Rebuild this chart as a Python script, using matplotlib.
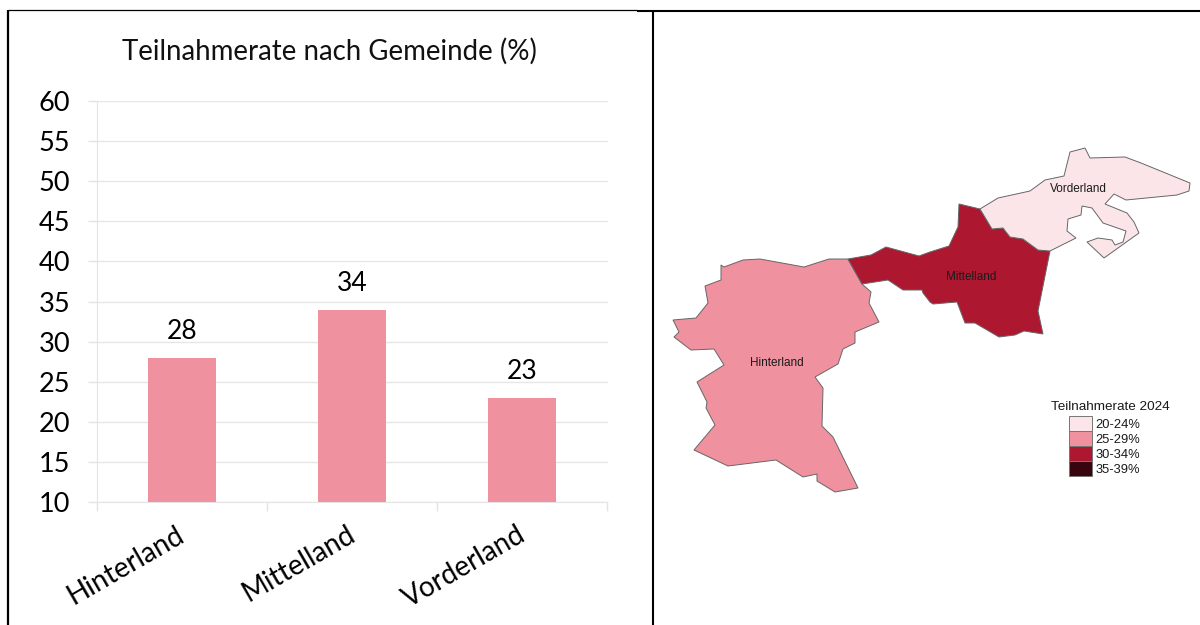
# Teilnahmerate nach Gemeinde: bar chart and small map
import matplotlib
matplotlib.use('Agg')
import matplotlib.pyplot as plt
from matplotlib.patches import Polygon, Rectangle
from matplotlib.transforms import ScaledTranslation

gemeinden = ['Hinterland', 'Mittelland', 'Vorderland']
teilnahme = [28, 34, 23]
y_ticks = list(range(10, 65, 5))

legend_title = 'Teilnahmerate 2024'
legend_labels = ['20-24%', '25-29%', '30-34%', '35-39%']
legend_colors = ['#FBE5E9', '#F0919F', '#AE1730', '#38040E']

# map outlines
hinterland_x = [848, 862, 871, 869, 879, 855, 855, 843, 838, 815, 823, 822, 833, 858, 835, 817, 817,
                803, 776, 728, 694, 715, 706, 707, 697, 724, 714, 691, 674, 679, 673, 696, 708, 705,
                721, 721, 724, 743, 760, 804, 829]
hinterland_y = [259, 284, 292, 303, 322, 332, 343, 349, 364, 377, 388, 426, 437, 488, 492, 481, 474,
                477, 460, 466, 450, 425, 408, 402, 382, 365, 349, 350, 337, 332, 320, 318, 303, 286,
                280, 265, 267, 260, 259, 267, 259]
mittelland_x = [848, 871, 886, 919, 930, 949, 958, 959, 980, 992, 1003, 1010, 1023, 1038, 1050, 1038,
                1043, 1024, 1015, 999, 975, 965, 957, 933, 930, 923, 922, 903, 888, 862]
mittelland_y = [259, 255, 247, 256, 252, 246, 227, 204, 209, 229, 228, 237, 239, 250, 251, 311,
                334, 331, 335, 337, 323, 323, 302, 304, 302, 293, 290, 290, 280, 284]
vorderland_x = [980, 998, 1030, 1045, 1064, 1070, 1085, 1090, 1125, 1141, 1190, 1189, 1177, 1126, 1114,
                1105, 1127, 1134, 1139, 1104, 1087, 1098, 1112, 1115, 1123, 1126, 1103, 1092, 1082,
                1081, 1068, 1067, 1076, 1050, 1038, 1023, 1010, 1003, 992]
vorderland_y = [209, 198, 191, 180, 176, 152, 148, 158, 157, 163, 183, 191, 195, 200, 194,
                204, 213, 222, 233, 258, 242, 238, 240, 245, 242, 231, 223, 208, 206,
                215, 219, 231, 238, 251, 250, 239, 237, 228, 229]
map_names = [('Hinterland', 777, 363), ('Mittelland', 971.5, 277), ('Vorderland', 1078.5, 189)]

fig = plt.figure(figsize=(12, 6.25), dpi=100)

# whole figure layer in pixels, for the frame and the map
bg = fig.add_axes([0, 0, 1, 1])
bg.set_xlim(0, 1200)
bg.set_ylim(625, 0)
bg.axis('off')

bg.plot([8.2, 8.2], [10, 625], color='black', lw=1.6, solid_capstyle='butt')
bg.plot([8, 637], [10.3, 10.3], color='black', lw=0.9, solid_capstyle='butt')
bg.plot([637, 1200], [10.5, 10.5], color='black', lw=1.5, solid_capstyle='butt')
bg.plot([652.8, 652.8], [10, 625], color='black', lw=1.5, solid_capstyle='butt')

outlines = [(hinterland_x, hinterland_y, legend_colors[1]),
            (mittelland_x, mittelland_y, legend_colors[2]),
            (vorderland_x, vorderland_y, legend_colors[0])]
for xs, ys, col in outlines:
    bg.add_patch(Polygon(list(zip(xs, ys)), closed=True, facecolor=col, edgecolor='#666666', lw=0.7))
for name, x, y in map_names:
    bg.text(x, y, name, family='Liberation Sans', fontsize=8.5, color='#1a1a1a', ha='center', va='center')

bg.text(1110.5, 407, legend_title, family='Liberation Sans', fontsize=9.7, color='#1a1a1a', ha='center', va='center')
for i, (lab, col) in enumerate(zip(legend_labels, legend_colors)):
    bg.add_patch(Rectangle((1068.5, 416 + 15 * i), 23, 15, facecolor=col, edgecolor='#777777', lw=0.7))
    bg.text(1095.5, 425 + 15 * i, lab, family='Liberation Sans', fontsize=9.3, color='#1a1a1a', ha='left', va='center')

# bar chart
ax = fig.add_axes([96.5 / 1200, 1 - 502 / 625, (607 - 96) / 1200, (502 - 101) / 625])
ax.patch.set_alpha(0)
pos = list(range(len(gemeinden)))
ax.bar(pos, teilnahme, width=0.4, color=legend_colors[1], zorder=3)
ax.set_xlim(-0.5, 2.5)
ax.set_ylim(10, 60)
ax.set_yticks(y_ticks)
ax.set_xticks(pos)
ax.set_xticklabels(gemeinden, rotation=30, ha='right', rotation_mode='anchor', family='Lato', fontsize=20)
ax.set_xticks([-0.5, 0.5, 1.5, 2.5], minor=True)
ax.tick_params(axis='x', which='major', length=0, pad=14)
ax.tick_params(axis='x', which='minor', length=6.5, width=1, color='#E4E4E4')
ax.tick_params(axis='y', length=6.5, width=1, color='#E4E4E4', pad=12.5, labelsize=19.5)
for lab in ax.get_yticklabels():
    lab.set_family('Lato')
# nudge the slanted labels a little to the left
nudge = ScaledTranslation(-4 / 72, 0, fig.dpi_scale_trans)
for lab in ax.get_xticklabels():
    lab.set_transform(lab.get_transform() + nudge)
ax.grid(axis='y', color='#E6E6E6', lw=1, zorder=0)
for side in ['top', 'right']:
    ax.spines[side].set_visible(False)
for side in ['left', 'bottom']:
    ax.spines[side].set_color('#E4E4E4')

for p, v in zip(pos, teilnahme):
    ax.annotate(str(v), (p, v), xytext=(0, 19), textcoords='offset points', ha='center', va='center',
                family='Lato', fontsize=19, color='black')

fig.text(329 / 1200, 1 - 51 / 625, 'Teilnahmerate nach Gemeinde (%)', family='Lato', fontsize=19.9,
         ha='center', va='center', color='#111111')

fig.savefig('out.png', dpi=100)
